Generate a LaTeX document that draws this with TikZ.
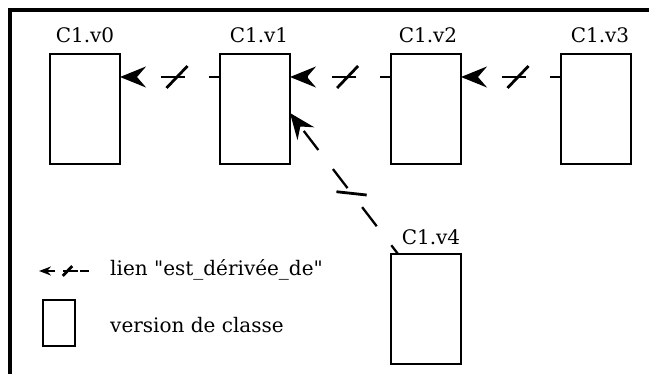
\documentclass[tikz,border=0pt]{standalone}
\usepackage{fontspec}
\newfontfamily\serif{DejaVu Serif}
\usetikzlibrary{positioning,arrows.meta,decorations.markings}

\begin{document}
\begin{tikzpicture}[x=1pt,y=-1pt,
	version/.style={draw,line width=2.3pt,minimum width=70pt,minimum height=110pt,inner sep=0pt,outer sep=0pt},
	nom/.style={anchor=base,font=\serif\fontsize{20}{24}\selectfont,inner sep=0pt},
	texte/.style={anchor=base west,font=\serif\fontsize{20}{24}\selectfont,inner sep=0pt},
	barre/.style={decorate,decoration={markings,mark=at position .43 with {\draw[solid,-,line width=2.8pt] (-#1*10.5pt,-#1*11pt) -- (#1*10.5pt,#1*11pt);}}},
	derive/.style={line width=2.3pt,-{Stealth[length=26pt,width=21pt,inset=9pt]},
		dash pattern=on 24pt off 24pt,dash phase=13pt,postaction={barre=1}},
	petit/.style={line width=2.5pt,-{Stealth[length=12pt,width=9pt,inset=4pt]},
		dash pattern=on 9pt off 2pt on 15pt off 8pt on 20pt off 1pt,postaction={barre=.45}},
	]
	\useasboundingbox (0,0) rectangle (649,374);
	%\draw[help lines] (0,0) grid[step=50] (649,374);
	\draw[line width=3.8pt] (10,374) -- (10,10) -- (649,10);

	\node[version] (v0) at (85,109) {};
	\node[version] (v1) [right=100pt of v0] {};
	\node[version] (v2) [right=101pt of v1] {};
	\node[version] (v3) [right=100pt of v2] {};
	\node[version] (v4) [below=90pt of v2] {};

	\node[nom] (t0) at ([yshift=11pt]v0.north) {C1.v0};
	\node[nom] (t1) at ([xshift=4pt,yshift=11pt]v1.north) {C1.v1};
	\node[nom] (t2) at ([xshift=2pt,yshift=11pt]v2.north) {C1.v2};
	\node[nom] (t3) at ([xshift=4pt,yshift=11pt]v3.north) {C1.v3};
	\node[nom] (t4) at ([xshift=5pt,yshift=9pt]v4.north) {C1.v4};

	\draw[derive] ([yshift=32pt]v1.west) -- ([yshift=32pt]v0.east);
	\draw[derive] ([yshift=32pt]v2.west) -- ([yshift=32pt]v1.east);
	\draw[derive] ([yshift=32pt]v3.west) -- ([yshift=32pt]v2.east);
	\draw[derive] ([xshift=7pt]v4.north west) -- ([yshift=-4pt]v1.east);

	% legende
	\coordinate (l1) at (89,271);
	\coordinate (l0) at (39,271);
	\draw[petit] (l1) -- (l0);
	\node[texte] (lien) at (110,276) {lien "est\_dérivée\_de"};
	\node[version,minimum width=32pt,minimum height=46pt] (lv) at (59,323) {};
	\node[texte] (classe) at (110,333) {version de classe};
\end{tikzpicture}
\end{document}
